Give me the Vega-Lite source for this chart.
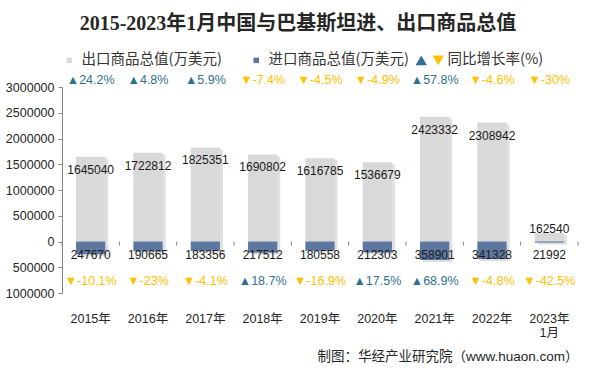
{
  "$schema": "https://vega.github.io/schema/vega-lite/v6.json",
  "autosize": {"type": "none"},
  "padding": {"left": 62, "top": 87, "right": 17, "bottom": 82},
  "width": 516,
  "height": 206,
  "background": "white",
  "title": {
    "text": "2015-2023年1月中国与巴基斯坦进、出口商品总值",
    "font": "Liberation Serif, Noto Sans CJK SC",
    "fontSize": 20,
    "fontWeight": "bold",
    "color": "#262626",
    "anchor": "middle",
    "dx": -22,
    "offset": 19
  },
  "data": {
    "values": [
      {"year": "2015年", "export": 1645040, "import": 247670, "eg": "▲24.2%", "ed": "up", "ig": "▼-10.1%", "id": "down"},
      {"year": "2016年", "export": 1722812, "import": 190665, "eg": "▲4.8%", "ed": "up", "ig": "▼-23%", "id": "down"},
      {"year": "2017年", "export": 1825351, "import": 183356, "eg": "▲5.9%", "ed": "up", "ig": "▼-4.1%", "id": "down"},
      {"year": "2018年", "export": 1690802, "import": 217512, "eg": "▼-7.4%", "ed": "down", "ig": "▲18.7%", "id": "up"},
      {"year": "2019年", "export": 1616785, "import": 180558, "eg": "▼-4.5%", "ed": "down", "ig": "▼-16.9%", "id": "down"},
      {"year": "2020年", "export": 1536679, "import": 212303, "eg": "▼-4.9%", "ed": "down", "ig": "▲17.5%", "id": "up"},
      {"year": "2021年", "export": 2423332, "import": 358901, "eg": "▲57.8%", "ed": "up", "ig": "▲68.9%", "id": "up"},
      {"year": "2022年", "export": 2308942, "import": 341328, "eg": "▼-4.6%", "ed": "down", "ig": "▼-4.8%", "id": "down"},
      {"year": "2023年1月", "export": 162540, "import": 21992, "eg": "▼-30%", "ed": "down", "ig": "▼-42.5%", "id": "down"}
    ]
  },
  "transform": [{"calculate": "-datum.import", "as": "import_neg"}],
  "encoding": {
    "x": {
      "field": "year",
      "type": "nominal",
      "sort": null,
      "scale": {"paddingInner": 0.49, "paddingOuter": 0.245},
      "axis": {
        "domain": false,
        "ticks": false,
        "labelAngle": 0,
        "labelPadding": 19,
        "labelFont": "Liberation Sans, Noto Sans CJK SC",
        "labelFontSize": 12.5,
        "labelColor": "#262626",
        "labelExpr": "datum.value == '2023年1月' ? ['2023年', '1月'] : datum.label",
        "title": "制图：华经产业研究院（www.huaon.com）",
        "titleFont": "Liberation Sans, Noto Sans CJK SC",
        "titleFontSize": 13.5,
        "titleFontWeight": "normal",
        "titleColor": "#262626",
        "titleAnchor": "end",
        "titlePadding": 10
      }
    }
  },
  "resolve": {"axis": {"y": "independent"}},
  "layer": [
    {
      "mark": {"type": "bar", "color": "#000000", "opacity": 0.12, "xOffset": 3, "yOffset": 2},
      "encoding": {
        "y": {
          "field": "export",
          "type": "quantitative",
          "scale": {"domain": [-1000000, 3000000], "nice": false, "zero": false},
          "axis": {
            "values": [-1000000, -500000, 0, 500000, 1000000, 1500000, 2000000, 2500000, 3000000],
            "labelOverlap": {"expr": "false"},
            "labelSeparation": 0,
            "title": null
          }
        }
      }
    },
    {
      "mark": {"type": "bar", "color": "#000000", "opacity": 0.12, "xOffset": 3, "yOffset": 2},
      "encoding": {"y": {"field": "import_neg", "type": "quantitative", "axis": null}}
    },
    {
      "mark": {"type": "bar"},
      "encoding": {
        "y": {"field": "export", "type": "quantitative", "axis": null},
        "fill": {
          "datum": "出口商品总值(万美元)",
          "type": "nominal",
          "scale": {"domain": ["出口商品总值(万美元)", "进口商品总值(万美元)"], "range": ["#d9d9d9", "#5e77a0"]},
          "legend": {
            "orient": "none",
            "direction": "horizontal",
            "legendX": 0,
            "legendY": -34,
            "title": null,
            "symbolType": "square",
            "symbolSize": 30,
            "symbolStrokeWidth": 0,
            "labelOffset": 5,
            "columnPadding": 27,
            "labelFont": "Noto Sans CJK SC",
            "labelFontSize": 14.5,
            "labelColor": "#333333",
            "labelLimit": 300
          }
        }
      }
    },
    {
      "mark": {"type": "bar"},
      "encoding": {
        "y": {"field": "import_neg", "type": "quantitative", "axis": null},
        "fill": {"datum": "进口商品总值(万美元)", "type": "nominal"}
      }
    },
    {
      "mark": {"type": "rule", "color": "#868686", "strokeWidth": 1},
      "encoding": {"y": {"datum": 0, "type": "quantitative", "axis": null}}
    },
    {
      "mark": {"type": "rule", "color": "#868686", "strokeWidth": 1},
      "encoding": {
        "x": {"field": "year", "type": "nominal", "sort": null, "bandPosition": -0.48},
        "y": {"datum": 0, "type": "quantitative", "axis": null},
        "y2": {"datum": -80000}
      }
    },
    {
      "transform": [{"filter": "datum.year == '2023年1月'"}],
      "mark": {"type": "rule", "color": "#868686", "strokeWidth": 1},
      "encoding": {
        "x": {"field": "year", "type": "nominal", "sort": null, "bandPosition": 1.48},
        "y": {"datum": 0, "type": "quantitative", "axis": null},
        "y2": {"datum": -80000}
      }
    },
    {
      "transform": [{"filter": "datum.year != '2023年1月'"}],
      "mark": {"type": "text", "font": "Liberation Sans", "fontSize": 12, "color": "#1a1a1a", "baseline": "middle", "dy": 13},
      "encoding": {
        "y": {"field": "export", "type": "quantitative", "axis": null},
        "text": {"field": "export", "type": "quantitative", "format": "d"}
      }
    },
    {
      "transform": [{"filter": "datum.year == '2023年1月'"}],
      "mark": {"type": "text", "font": "Liberation Sans", "fontSize": 12, "color": "#1a1a1a", "baseline": "middle", "dy": -4},
      "encoding": {
        "y": {"field": "export", "type": "quantitative", "axis": null},
        "text": {"field": "export", "type": "quantitative", "format": "d"}
      }
    },
    {
      "mark": {"type": "text", "font": "Liberation Sans", "fontSize": 12, "color": "#1a1a1a", "baseline": "middle", "dy": 13},
      "encoding": {
        "y": {"datum": 0, "type": "quantitative", "axis": null},
        "text": {"field": "import", "type": "quantitative", "format": "d"}
      }
    },
    {
      "mark": {"type": "text", "font": "Liberation Sans", "fontSize": 12.5, "baseline": "middle"},
      "encoding": {
        "y": {"datum": 3136000, "type": "quantitative", "axis": null},
        "text": {"field": "eg"},
        "color": {
          "field": "ed",
          "type": "nominal",
          "scale": {"domain": ["up", "down"], "range": ["#31708f", "#ffc000"]},
          "legend": {
            "orient": "none",
            "direction": "horizontal",
            "legendX": 352,
            "legendY": -34,
            "title": null,
            "symbolSize": 130,
            "symbolStrokeWidth": 0,
            "labelOffset": 2,
            "columnPadding": 0,
            "labelFont": "Noto Sans CJK SC",
            "labelFontSize": 14.5,
            "labelColor": "#333333",
            "labelLimit": 300,
            "labelExpr": "datum.value == 'up' ? '' : '同比增长率(%)'",
            "encode": {
              "symbols": {
                "update": {
                  "shape": {"signal": "datum.value == 'up' ? 'triangle-up' : 'triangle-down'"}
                }
              }
            }
          }
        }
      }
    },
    {
      "mark": {"type": "text", "font": "Liberation Sans", "fontSize": 12.5, "baseline": "middle"},
      "encoding": {
        "y": {"datum": -761000, "type": "quantitative", "axis": null},
        "text": {"field": "ig"},
        "color": {"field": "id", "type": "nominal"}
      }
    }
  ],
  "config": {
    "view": {"stroke": null},
    "legend": {"padding": 0},
    "axisY": {
      "grid": false,
      "title": null,
      "labelBound": false,
      "domainColor": "#868686",
      "tickColor": "#868686",
      "tickSize": 4,
      "labelPadding": 4,
      "labelFont": "Liberation Sans",
      "labelFontSize": 12.5,
      "labelColor": "#262626",
      "labelExpr": "format(abs(datum.value), 'd')"
    }
  }
}
